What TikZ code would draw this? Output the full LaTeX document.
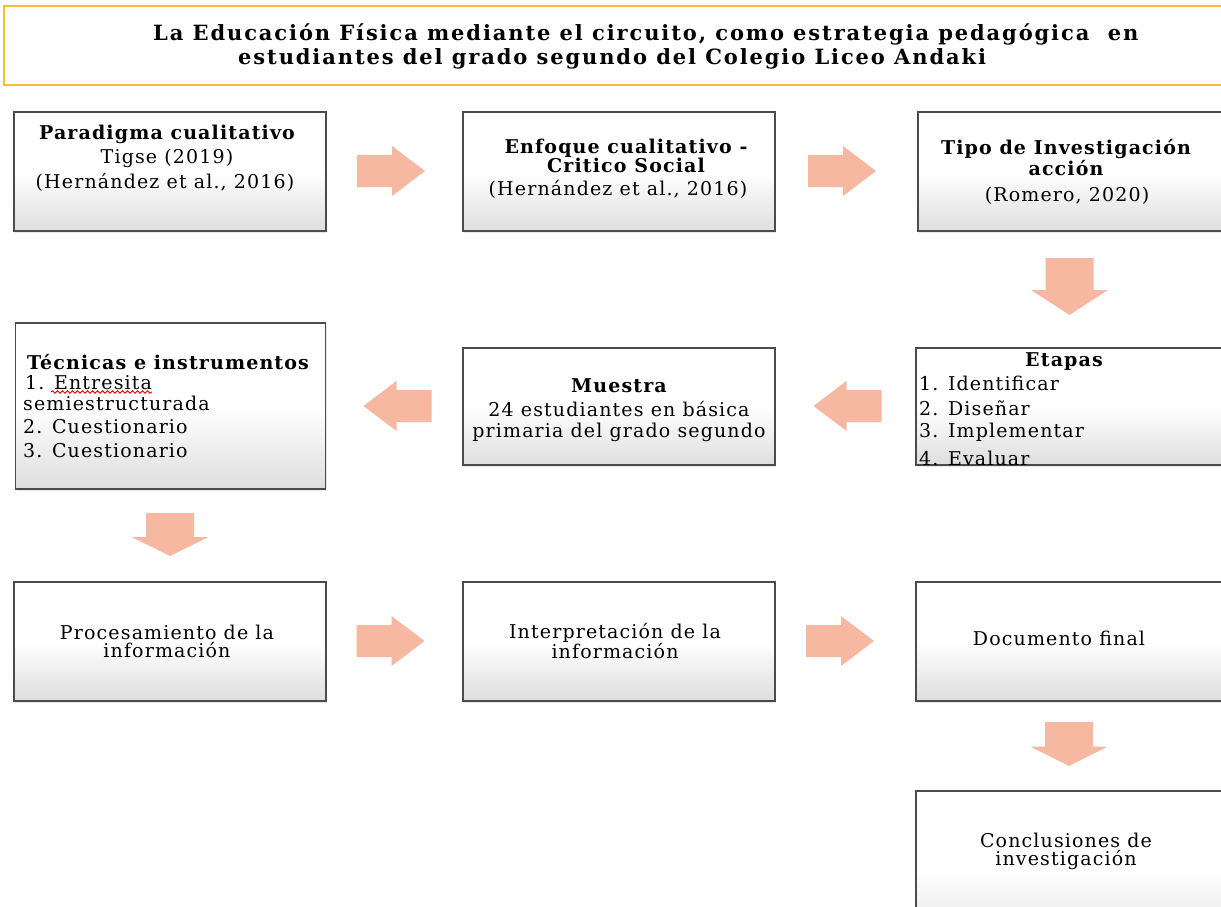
\documentclass[tikz,border=0pt]{standalone}
\usepackage{fontspec}
\setmainfont{DejaVu Serif}
\newfontfamily\bodyfont{DejaVu Serif}[LetterSpace=6]
\newfontfamily\titlefont{DejaVu Serif}[LetterSpace=9]
\usetikzlibrary{decorations.pathmorphing,shadows}
\definecolor{arrowc}{RGB}{246,184,160}
\definecolor{titleb}{RGB}{243,192,45}
\definecolor{boxb}{RGB}{75,75,75}
\begin{document}
\begin{tikzpicture}[x=1pt,y=-1pt,
  box/.style={draw=boxb, line width=1.3pt, rectangle, inner sep=0pt,
    top color=white, bottom color=black!13, middle color=white,
    drop shadow={opacity=0.18, shadow xshift=1pt, shadow yshift=-2pt}},
  txt/.style={inner sep=0pt, align=center, font=\bodyfont\fontsize{19}{20}\selectfont},
  btxt/.style={inner sep=0pt, align=center, font=\bodyfont\bfseries\fontsize{19}{20}\selectfont},
  ltxt/.style={inner sep=0pt, anchor=west, font=\bodyfont\fontsize{19}{20}\selectfont},
  ttxt/.style={inner sep=0pt, anchor=west, font=\titlefont\bfseries\fontsize{21}{24}\selectfont},
  harr/.pic={\fill[arrowc] (-34,-16) -- (1,-16) -- (1,-25) -- (34,0) -- (1,25) -- (1,16) -- (-34,16) -- cycle;},
  varr/.pic={\fill[arrowc] (-24,-28.5) -- (24,-28.5) -- (24,3.5) -- (38.5,3.5) -- (0,28.5) -- (-38.5,3.5) -- (-24,3.5) -- cycle;}
]
\useasboundingbox (0,0) rectangle (1221,907);
\clip (0,0) rectangle (1221,907);
\fill[white] (0,0) rectangle (1221,907);

% title
\node[draw=titleb, line width=2pt, fill=white, minimum width=1240, minimum height=79, inner sep=0pt] (title) at (624,45.5) {};
\node[ttxt] (t1) at (153,34) {La Educación Física mediante el circuito, como estrategia pedagógica \ en};
\node[ttxt] (t2) at (238,59) {estudiantes del grado segundo del Colegio Liceo Andaki};

% row 1
\node[box, minimum width=312, minimum height=119] (A) at (170,171.5) {};
\node[btxt] (A1) at (167,134) {Paradigma cualitativo};
\node[txt] (A2) at (167,158) {Tigse (2019)};
\node[txt] (A3) at (165,182) {(Hernández et al., 2016)};

\node[box, minimum width=312, minimum height=119] (B) at (619,171.5) {};
\node[btxt, font=\bodyfont\bfseries\fontsize{19}{15}\selectfont] (B1) at (626,156) {Enfoque cualitativo -\\Critico Social};
\node[txt] (B2) at (618,189) {(Hernández et al., 2016)};

\node[box, minimum width=322, minimum height=119] (C) at (1079,171.5) {};
\node[btxt, font=\bodyfont\bfseries\fontsize{19}{21}\selectfont] (C1) at (1066,157.5) {Tipo de Investigación\\acción};
\node[txt] (C2) at (1067,196) {(Romero, 2020)};

\pic at (391,171) {harr};
\pic at (842,171) {harr};
\pic at (1069.5,286.5) {varr};

% row 2
\node[box, minimum width=310, minimum height=166] (D) at (170.5,406) {};
\node[btxt] (D1) at (168,362) {Técnicas e instrumentos};
\node[ltxt] (D2) at (25,383) {1. Entresita};
\node[ltxt] (D3) at (23,403) {semiestructurada};
\node[ltxt] (D4) at (23,427) {2. Cuestionario};
\node[ltxt] (D5) at (23,451) {3. Cuestionario};
\coordinate (w1) at (51,392);
\coordinate (w2) at (152,392);
\draw[red!85!black, line width=0.9pt, decorate, decoration={snake, amplitude=1.2pt, segment length=5pt}] (w1) -- (w2);

\node[box, minimum width=312, minimum height=117] (E) at (619,406.5) {};
\node[btxt] (E1) at (619,386) {Muestra};
\node[txt] (E2) at (619,409) {24 estudiantes en básica};
\node[txt] (E3) at (619,432) {primaria del grado segundo};

\node[box, minimum width=324, minimum height=117] (F) at (1078,406.5) {};
\begin{scope}
\clip (F.north west) rectangle (F.south east);
\node[btxt] (F1) at (1064,362) {Etapas};
\node[ltxt] (F2) at (919,383) {1. Identificar};
\node[ltxt] (F3) at (919,408) {2. Diseñar};
\node[ltxt] (F4) at (919,432) {3. Implementar};
\node[ltxt] (F5) at (919,458) {4. Evaluar};
\end{scope}

\pic[rotate=180] at (847.5,406) {harr};
\pic[rotate=180] at (397.5,406) {harr};
\pic[yscale=0.75] at (170,534.5) {varr};

% row 3
\node[box, minimum width=312, minimum height=119] (G) at (170,641.5) {};
\node[txt, font=\bodyfont\fontsize{19}{18}\selectfont] (G1) at (167,641) {Procesamiento de la\\información};
\node[box, minimum width=312, minimum height=119] (H) at (619,641.5) {};
\node[txt, font=\bodyfont\fontsize{19}{18}\selectfont] (H1) at (615,641) {Interpretación de la\\información};
\node[box, minimum width=324, minimum height=119] (I) at (1078,641.5) {};
\node[txt] (I1) at (1059,638) {Documento final};

\pic at (390.5,641) {harr};
\pic at (840,641) {harr};
\pic[yscale=0.77] at (1069,744) {varr};

\node[box, minimum width=324, minimum height=160] (J) at (1078,871) {};
\node[txt, font=\bodyfont\fontsize{19}{18}\selectfont] (J1) at (1066,851) {Conclusiones de\\investigación};
\end{tikzpicture}
\end{document}
